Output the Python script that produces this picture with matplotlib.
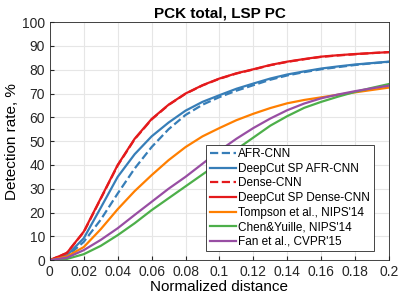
import numpy as np
import matplotlib.pyplot as plt

plt.rcParams['font.family'] = ['Liberation Sans', 'DejaVu Sans']

# ----- Data -----
x = np.round(np.arange(0, 0.201, 0.01), 2)

afr_cnn = [0, 1.5, 7.7, 17, 28, 38.5, 47.5, 55, 61, 65.3, 68.5,
           71.2, 73.5, 75.8, 77.6, 79, 80.2, 81.1, 82, 82.7, 83.3]
deepcut_afr = [0, 2, 9.2, 22, 35, 44.5, 52, 57.8, 62.8, 66.5, 69.3,
               72, 74.2, 76.3, 78, 79.3, 80.5, 81.4, 82.2, 82.8, 83.4]
dense_cnn = [0, 3, 11.8, 25.8, 39.8, 50.8, 59.1, 65.2, 69.9, 73.4, 76.2,
             78.4, 80.1, 81.9, 83.3, 84.4, 85.4, 86, 86.5, 87, 87.4]
deepcut_dense = [0, 3, 12, 26, 40, 51, 59.3, 65.3, 70, 73.5, 76.3,
                 78.5, 80.2, 82, 83.4, 84.5, 85.5, 86.1, 86.6, 87, 87.4]
tompson = [0, 1.5, 5.5, 13, 21.4, 29, 35.7, 42, 47.5, 52, 55.5,
           58.8, 61.5, 63.9, 65.9, 67.3, 68.4, 69.5, 70.5, 71.5, 72.5]
chen = [0, 0.5, 2.5, 6, 10.5, 15.5, 21, 26, 31, 36, 41,
        46.5, 51.5, 56.5, 60.5, 64, 66.5, 68.7, 70.7, 72.4, 74]
fan = [0, 1, 4.2, 8.5, 13.4, 19, 24.5, 30, 35, 40.5, 46,
       51, 55.5, 59.5, 63, 65.8, 68, 69.6, 71, 72.2, 73.3]

labels = ['AFR-CNN', 'DeepCut SP AFR-CNN', 'Dense-CNN', 'DeepCut SP Dense-CNN',
          "Tompson et al., NIPS'14", "Chen&Yuille, NIPS'14", "Fan et al., CVPR'15"]

blue, red, orange, green, purple = '#377eb8', '#e41a1c', '#ff7f00', '#4daf4a', '#984ea3'

# ----- Figure -----
fig = plt.figure(figsize=(3.99, 2.99), dpi=100)
ax = fig.add_axes([0.125, 0.13, 0.85, 0.796])

ax.plot(x, afr_cnn, '--', color=blue, lw=1.6, label=labels[0])
ax.plot(x, deepcut_afr, '-', color=blue, lw=1.6, label=labels[1])
ax.plot(x, dense_cnn, '--', color=red, lw=1.6, label=labels[2])
ax.plot(x, deepcut_dense, '-', color=red, lw=1.6, label=labels[3])
ax.plot(x, tompson, '-', color=orange, lw=1.6, label=labels[4])
ax.plot(x, chen, '-', color=green, lw=1.6, label=labels[5])
ax.plot(x, fan, '-', color=purple, lw=1.6, label=labels[6])

ax.set_xlim(0, 0.2)
ax.set_ylim(0, 100)
ax.set_xticks(np.arange(0, 0.21, 0.02))
ax.set_xticklabels(['0', '0.02', '0.04', '0.06', '0.08', '0.1', '0.12',
                    '0.14', '0.16', '0.18', '0.2'])
ax.set_yticks(np.arange(0, 101, 10))
ax.tick_params(direction='in', labelsize=10, length=3, colors='#262626')
ax.grid(True, color='#e6e6e6', lw=0.8)
ax.set_axisbelow(True)
for s in ax.spines.values():
    s.set_color('#262626')
    s.set_linewidth(0.6)

ax.set_xlabel('Normalized distance', fontsize=11, labelpad=1)
ax.set_ylabel('Detection rate, %', fontsize=11, labelpad=2)
ax.set_title('PCK total, LSP PC', fontsize=11, fontweight='bold', pad=3)

leg = ax.legend(loc='lower right', bbox_to_anchor=(0.972, 0.012), fontsize=8.5,
                handlelength=2.2, handletextpad=0.2, labelspacing=0.22,
                borderpad=0.3, fancybox=False, framealpha=1)
leg.get_frame().set_edgecolor('#262626')
leg.get_frame().set_linewidth(0.6)

fig.savefig('out.png', dpi=100)
